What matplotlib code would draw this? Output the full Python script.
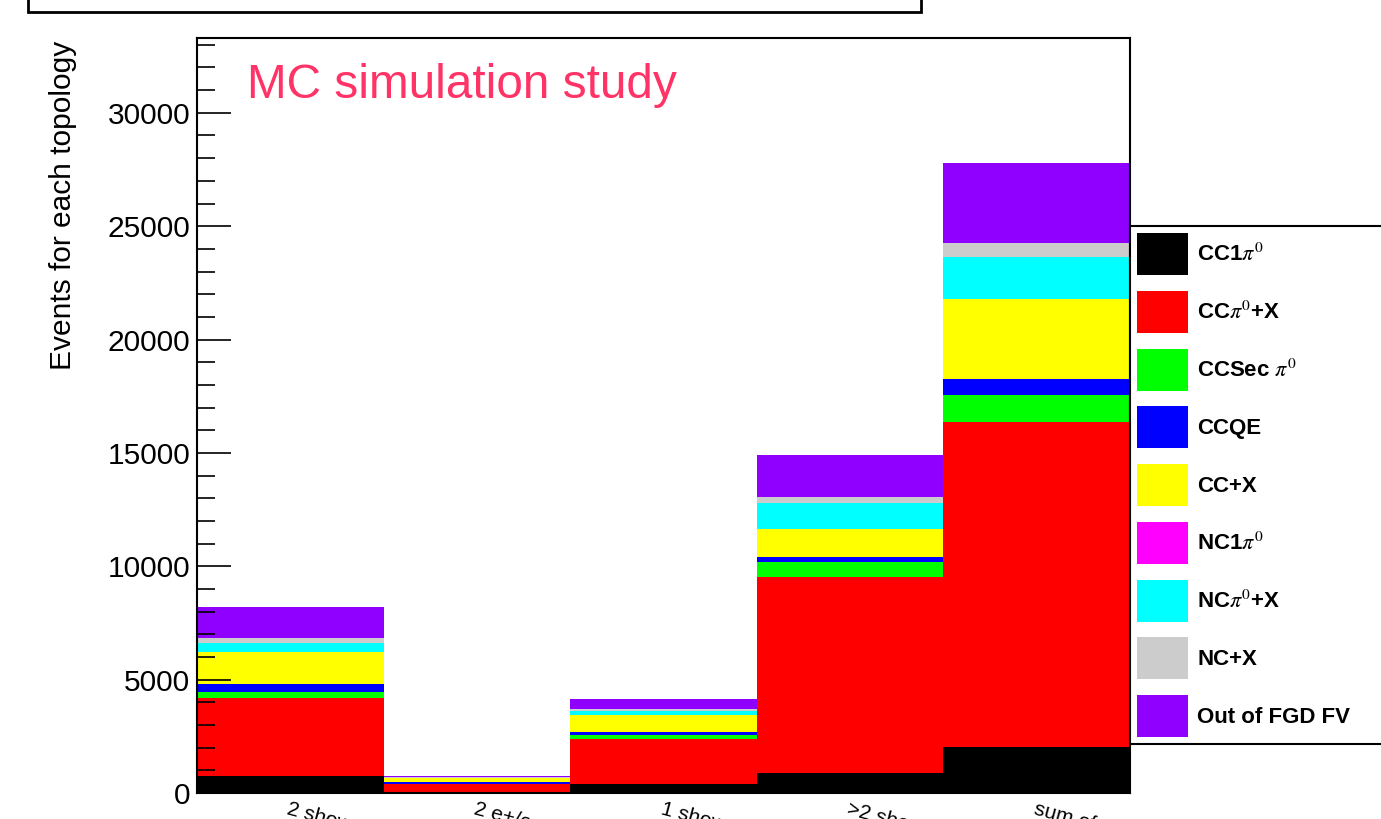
import matplotlib
matplotlib.use("Agg")
import matplotlib.pyplot as plt
from matplotlib.patches import Rectangle
from matplotlib.ticker import MultipleLocator
import numpy as np

plt.rcParams["font.family"] = ["Liberation Sans", "DejaVu Sans"]
plt.rcParams["mathtext.fontset"] = "stix"

# Event topologies (x bins)
categories = ["2 showers", "2 e+/e- showers", "1 shower", ">2 showers", "sum of all topologies"]

# Stacked contributions per topology (events)
cc1pi0 = [763, 25, 397, 869, 2029]
ccpi0x = [3441, 360, 1972, 8646, 14352]
ccsecpi0 = [265, 30, 190, 691, 1164]
ccqe = [353, 90, 145, 192, 706]
ccx = [1412, 150, 724, 1236, 3530]
nc1pi0 = [0, 0, 0, 0, 0]
ncpi0x = [370, 15, 190, 1146, 1852]
ncx = [247, 15, 75, 265, 618]
out_fv = [1342, 75, 441, 1867, 3529]

series = [
    (r"CC1$\pi^{0}$", cc1pi0, "#000000"),
    (r"CC$\pi^{0}$+X", ccpi0x, "#ff0000"),
    (r"CCSec $\pi^{0}$", ccsecpi0, "#00ff00"),
    ("CCQE", ccqe, "#0000ff"),
    ("CC+X", ccx, "#ffff00"),
    (r"NC1$\pi^{0}$", nc1pi0, "#ff00ff"),
    (r"NC$\pi^{0}$+X", ncpi0x, "#00ffff"),
    ("NC+X", ncx, "#cccccc"),
    ("Out of FGD FV", out_fv, "#8f00ff"),
]

W, H = 1381, 819
fig = plt.figure(figsize=(W / 100, H / 100), dpi=100)
ax = fig.add_axes([197 / W, (H - 793) / H, 933 / W, 755 / H])

edges = np.arange(len(categories))
bottom = np.zeros(len(categories))
handles = []
for label, vals, color in series:
    vals = np.asarray(vals, dtype=float)
    bars = ax.bar(edges, vals, width=1.0, bottom=bottom, align="edge",
                  color=color, linewidth=0, label=label)
    handles.append(bars)
    bottom += vals

ax.set_xlim(0, len(categories))
ax.set_ylim(0, 33300)

# y axis: ROOT-like inward ticks on the left only
ax.yaxis.set_major_locator(MultipleLocator(5000))
ax.yaxis.set_minor_locator(MultipleLocator(1000))
ax.tick_params(axis="y", which="major", direction="in", length=24.5, width=1.2,
               labelsize=21.5, pad=5)
ax.tick_params(axis="y", which="minor", direction="in", length=13, width=1.2)
ax.tick_params(axis="x", length=0, pad=5)

ax.set_xticks(edges + 0.5)
ax.set_xticklabels(categories, fontsize=15, rotation=-15, rotation_mode="anchor",
                   ha="left", va="top")

for sp in ax.spines.values():
    sp.set_linewidth(1.5)
    sp.set_zorder(5)

ax.set_ylabel("Events for each topology", fontsize=21.5, loc="top")
ax.yaxis.set_label_coords(-0.129, 0.997)

ax.text(0.0536, 0.9205, "MC simulation study", transform=ax.transAxes,
        fontsize=34.4, color="#ff3366", va="baseline", ha="left")

leg = fig.legend(handles=handles, loc="upper left",
                 bbox_to_anchor=(1130 / W, (H - 226) / H, 280 / W, 0.0),
                 bbox_transform=fig.transFigure, mode="expand", borderaxespad=0,
                 prop={"weight": "bold", "size": 16}, handlelength=2.3,
                 handleheight=2.53, labelspacing=0.71, handletextpad=0.4,
                 borderpad=0.32, fancybox=False, framealpha=1.0)
leg.get_frame().set_edgecolor("black")
leg.get_frame().set_linewidth(1.5)

# Title pave clipped by the top edge of the canvas
fig.patches.append(Rectangle((28 / W, 1 - 12 / H), (921 - 28) / W, 0.05,
                             transform=fig.transFigure, facecolor="white",
                             edgecolor="black", linewidth=2.0))

fig.savefig("out.png", dpi=100)
